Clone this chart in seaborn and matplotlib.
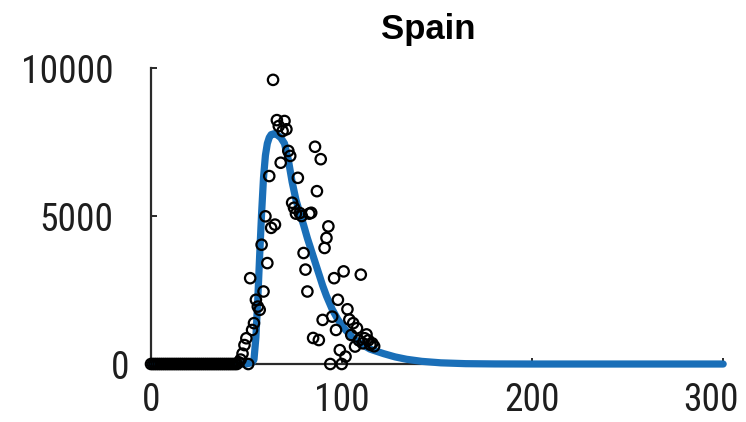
import numpy as np
import pandas as pd
import matplotlib
matplotlib.use("Agg")
import matplotlib.pyplot as plt
import matplotlib.transforms as mtransforms
import seaborn as sns
from matplotlib import font_manager

# ---------------- data ----------------
title = "Spain"
obs_days = list(range(0, 118))
obs_values = [0] * 46 + [
    60, 150, 350, 640, 870, 0, 2900, 1150, 1380, 2170,      # 46-55
    1940, 1830, 4030, 2450, 4990, 3410, 6350, 4600, 9600, 4710,  # 56-65
    8240, 8040, 6800, 7870, 8210, 7930, 7200, 7030, 5450, 5280,  # 66-75
    5080, 6290, 5100, 5000, 3750, 3190, 2450, 5080, 5110, 880,   # 76-85
    7340, 5840, 810, 6920, 1490, 3920, 4260, 4650, 0, 1600,      # 86-95
    2900, 1150, 2170, 470, 0, 3130, 250, 1850, 1500, 980,        # 96-105
    1380, 590, 1210, 800, 3020, 700, 870, 1000, 800, 650,        # 106-115
    700, 600,                                                    # 116-117
]
fit_days = [0, 50, 53, 54, 55, 56, 57, 58, 59, 60, 61, 62, 63, 64.5, 66, 68, 70,
            72, 74, 76, 78, 80, 82, 84, 86, 88, 90, 92, 95, 98, 102, 106, 110,
            115, 122, 128, 134, 142, 152, 165, 180, 200, 300]
fit_values = [0, 0, 50, 150, 900, 2200, 3700, 5100, 6300, 7050, 7450, 7650, 7750,
              7780, 7750, 7650, 7450, 6900, 6150, 5550, 5100, 4700, 4250, 3850,
              3450, 3050, 2650, 2300, 1850, 1500, 1150, 870, 680, 500, 350, 240,
              160, 90, 40, 12, 3, 0, 0]
x_ticks = [0, 100, 200, 300]
y_ticks = [0, 5000, 10000]

obs = pd.DataFrame({"day": obs_days, "cases": obs_values})
fit = pd.DataFrame({"day": fit_days, "cases": fit_values})

# ---------------- fonts ----------------
names = {f.name for f in font_manager.fontManager.ttflist}
narrow = None
for cand in ["Liberation Sans Narrow", "DejaVu Sans Condensed",
             "Roboto Condensed", "Open Sans Condensed"]:
    if cand in names:
        narrow = cand
        break
if narrow is not None:
    tick_font, tick_size = narrow, 27
else:
    tick_font = "Liberation Sans" if "Liberation Sans" in names else "DejaVu Sans"
    tick_size = 23
title_font = "Liberation Sans" if "Liberation Sans" in names else "DejaVu Sans"

sns.set_style("ticks")
plt.rcParams["font.family"] = [tick_font, "DejaVu Sans"]

fig = plt.figure(figsize=(7.46, 4.22), dpi=100)
ax = fig.add_axes([0.2024, 0.1374, 0.767, 0.7014])

sns.lineplot(data=fit, x="day", y="cases", ax=ax, color="#1a6fb8",
             linewidth=5.2, zorder=3, clip_on=False, estimator=None)
sns.scatterplot(data=obs, x="day", y="cases", ax=ax, marker="o",
                facecolor="none", edgecolor="black", linewidth=1.6, s=56,
                zorder=4, clip_on=False)

ax.set_xlim(0, 300)
ax.set_ylim(0, 10000)
ax.set_xticks(x_ticks)
ax.set_yticks(y_ticks)
ax.set_xlabel("")
ax.set_ylabel("")
sns.despine(ax=ax)
for s in ["left", "bottom"]:
    ax.spines[s].set_linewidth(1.6)
    ax.spines[s].set_color("#2a2a2a")
ax.tick_params(axis="both", direction="in", length=4, width=1.4,
               color="#2a2a2a", labelsize=tick_size, labelcolor="#1e1e1e")
ax.tick_params(axis="y", pad=27)
ax.tick_params(axis="x", pad=13)

# small label nudges seen in the reference
fig.canvas.draw()
xl = ax.get_xticklabels()
xl[-1].set_transform(xl[-1].get_transform() +
                     mtransforms.ScaledTranslation(-12 / 100, 0, fig.dpi_scale_trans))
yl = ax.get_yticklabels()
yl[0].set_transform(yl[0].get_transform() +
                    mtransforms.ScaledTranslation(16 / 100, 0, fig.dpi_scale_trans))

fig.text(428 / 746, 1 - 39 / 422, title, ha="center", va="baseline",
         fontsize=25, fontweight="bold", family=[title_font, "DejaVu Sans"],
         color="black")

fig.savefig("out.png", dpi=100)
